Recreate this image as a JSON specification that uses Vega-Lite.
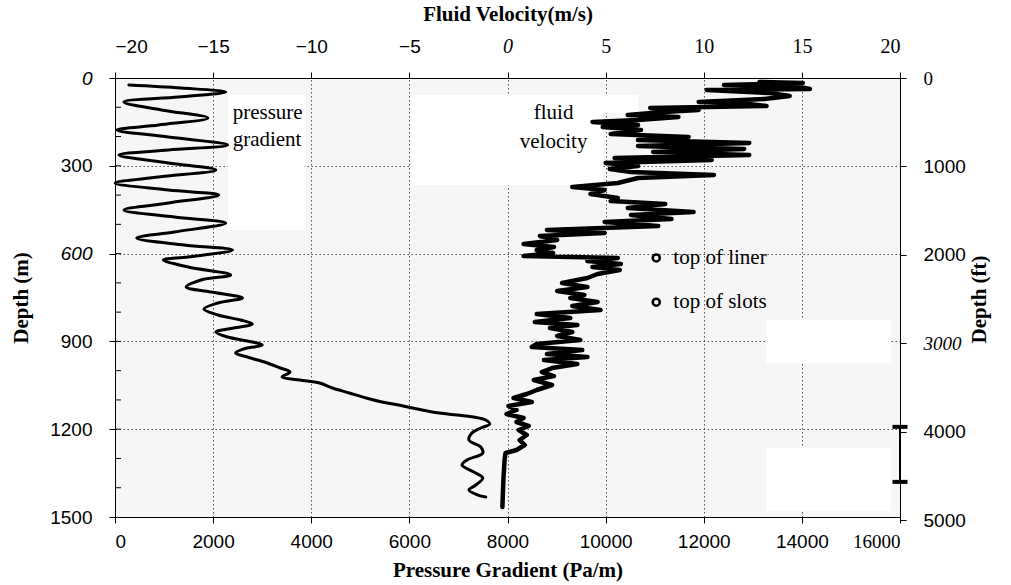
{
  "$schema": "https://vega.github.io/schema/vega-lite/v6.json",
  "width": 785,
  "height": 439,
  "autosize": {"type": "none"},
  "padding": {"left": 115, "top": 78, "right": 111, "bottom": 68},
  "background": "white",
  "config": {
    "view": {"fill": "#f6f6f6", "stroke": "#000", "strokeWidth": 1},
    "axis": {
      "domainColor": "#000", "tickColor": "#000", "labelColor": "#000", "titleColor": "#000",
      "labelFont": "Liberation Sans", "labelFontSize": 19, "format": "d",
      "titleFont": "Liberation Serif", "titleFontSize": 21, "titleFontWeight": "bold",
      "tickSize": 6, "gridDash": [1.5, 2.5], "gridColor": "#555", "gridWidth": 1
    }
  },
  "datasets": {
    "pressure": [
      {"p": 282, "d": 23.9}, {"p": 1350, "d": 34.2}, {"p": 2257, "d": 47.8}, {"p": 1290, "d": 64.9},
      {"p": 181, "d": 82.0}, {"p": 947, "d": 109.3}, {"p": 1894, "d": 136.7}, {"p": 887, "d": 160.6},
      {"p": 40, "d": 177.7}, {"p": 1088, "d": 201.6}, {"p": 2297, "d": 228.9}, {"p": 1088, "d": 246.0},
      {"p": 81, "d": 263.1}, {"p": 1088, "d": 290.4}, {"p": 2055, "d": 314.4}, {"p": 887, "d": 338.3},
      {"p": 0, "d": 358.8}, {"p": 1088, "d": 382.7}, {"p": 2116, "d": 399.8}, {"p": 1088, "d": 427.1},
      {"p": 181, "d": 451.0}, {"p": 1209, "d": 475.0}, {"p": 2257, "d": 495.5}, {"p": 1209, "d": 526.2},
      {"p": 443, "d": 546.7}, {"p": 1411, "d": 570.6}, {"p": 2398, "d": 587.7}, {"p": 1491, "d": 611.6},
      {"p": 987, "d": 621.9}, {"p": 1491, "d": 645.8}, {"p": 2358, "d": 673.1}, {"p": 1753, "d": 690.2},
      {"p": 1451, "d": 714.2}, {"p": 1955, "d": 731.2}, {"p": 2599, "d": 751.7}, {"p": 2096, "d": 768.8},
      {"p": 1814, "d": 789.3}, {"p": 2096, "d": 809.8}, {"p": 2559, "d": 826.9}, {"p": 2801, "d": 840.6},
      {"p": 2418, "d": 854.3}, {"p": 2055, "d": 868.0}, {"p": 2297, "d": 885.0}, {"p": 2700, "d": 898.7},
      {"p": 3002, "d": 912.3}, {"p": 2620, "d": 926.0}, {"p": 2458, "d": 939.7}, {"p": 2700, "d": 953.4},
      {"p": 3103, "d": 973.8}, {"p": 3365, "d": 990.9}, {"p": 3567, "d": 1004.6}, {"p": 3405, "d": 1021.7},
      {"p": 3768, "d": 1032.0}, {"p": 4171, "d": 1042.2}, {"p": 4433, "d": 1059.3}, {"p": 4776, "d": 1076.4},
      {"p": 5118, "d": 1093.4}, {"p": 5441, "d": 1107.1}, {"p": 5783, "d": 1117.4}, {"p": 6065, "d": 1127.6},
      {"p": 6468, "d": 1141.3}, {"p": 6972, "d": 1151.5}, {"p": 7314, "d": 1158.4}, {"p": 7556, "d": 1168.6},
      {"p": 7637, "d": 1182.3}, {"p": 7456, "d": 1195.9}, {"p": 7274, "d": 1213.0}, {"p": 7214, "d": 1237.0},
      {"p": 7456, "d": 1260.9}, {"p": 7496, "d": 1281.4}, {"p": 7173, "d": 1305.3}, {"p": 7073, "d": 1322.4},
      {"p": 7314, "d": 1346.3}, {"p": 7496, "d": 1366.8}, {"p": 7355, "d": 1390.7}, {"p": 7214, "d": 1407.8},
      {"p": 7395, "d": 1424.9}, {"p": 7556, "d": 1431.7}
    ],
    "velocity": [
      {"v": 12.84, "d": 13.7}, {"v": 15.05, "d": 17.1}, {"v": 11.03, "d": 23.9}, {"v": 14.90, "d": 30.8},
      {"v": 15.41, "d": 37.6}, {"v": 10.15, "d": 41.0}, {"v": 13.35, "d": 51.3}, {"v": 14.38, "d": 61.5},
      {"v": 13.09, "d": 71.8}, {"v": 9.74, "d": 82.0}, {"v": 12.32, "d": 88.8}, {"v": 13.20, "d": 95.7},
      {"v": 7.27, "d": 102.5}, {"v": 9.74, "d": 109.3}, {"v": 7.94, "d": 116.2}, {"v": 6.13, "d": 126.4},
      {"v": 8.71, "d": 133.3}, {"v": 6.65, "d": 143.5}, {"v": 4.33, "d": 150.3}, {"v": 6.65, "d": 160.6},
      {"v": 4.85, "d": 167.4}, {"v": 6.80, "d": 177.7}, {"v": 5.26, "d": 191.4}, {"v": 9.23, "d": 201.6},
      {"v": 6.65, "d": 211.9}, {"v": 12.32, "d": 222.1}, {"v": 6.65, "d": 232.4}, {"v": 12.06, "d": 242.6},
      {"v": 7.42, "d": 252.9}, {"v": 12.32, "d": 263.1}, {"v": 5.46, "d": 273.4}, {"v": 10.41, "d": 280.2},
      {"v": 5.00, "d": 290.4}, {"v": 6.65, "d": 300.7}, {"v": 5.21, "d": 310.9}, {"v": 6.29, "d": 321.2},
      {"v": 10.52, "d": 331.4}, {"v": 6.65, "d": 341.7}, {"v": 5.62, "d": 358.8}, {"v": 3.30, "d": 372.5},
      {"v": 4.95, "d": 382.7}, {"v": 4.23, "d": 396.4}, {"v": 5.62, "d": 410.0}, {"v": 5.26, "d": 420.3},
      {"v": 8.04, "d": 430.5}, {"v": 6.13, "d": 444.2}, {"v": 9.48, "d": 457.9}, {"v": 6.29, "d": 468.1},
      {"v": 8.35, "d": 481.8}, {"v": 4.95, "d": 492.0}, {"v": 7.68, "d": 505.7}, {"v": 2.01, "d": 519.4},
      {"v": 4.95, "d": 529.6}, {"v": 1.65, "d": 539.9}, {"v": 2.53, "d": 553.6}, {"v": 0.82, "d": 567.2},
      {"v": 2.37, "d": 577.5}, {"v": 1.49, "d": 587.7}, {"v": 2.32, "d": 598.0}, {"v": 0.82, "d": 608.2},
      {"v": 5.62, "d": 615.1}, {"v": 4.07, "d": 625.3}, {"v": 5.77, "d": 635.6}, {"v": 4.33, "d": 645.8},
      {"v": 5.72, "d": 656.1}, {"v": 4.59, "d": 669.7}, {"v": 4.07, "d": 683.4}, {"v": 2.78, "d": 700.5},
      {"v": 4.07, "d": 714.2}, {"v": 2.53, "d": 727.8}, {"v": 3.92, "d": 741.5}, {"v": 3.20, "d": 751.7},
      {"v": 4.59, "d": 765.4}, {"v": 3.30, "d": 779.1}, {"v": 4.74, "d": 792.7}, {"v": 1.49, "d": 806.4},
      {"v": 3.20, "d": 820.1}, {"v": 1.39, "d": 833.7}, {"v": 3.56, "d": 844.0}, {"v": 2.16, "d": 854.3},
      {"v": 3.30, "d": 868.0}, {"v": 2.53, "d": 881.6}, {"v": 3.71, "d": 895.3}, {"v": 1.49, "d": 909.0},
      {"v": 1.24, "d": 919.2}, {"v": 3.81, "d": 929.4}, {"v": 2.01, "d": 943.1}, {"v": 4.07, "d": 953.4},
      {"v": 1.86, "d": 963.6}, {"v": 3.56, "d": 977.3}, {"v": 2.27, "d": 991.0}, {"v": 1.75, "d": 1004.6},
      {"v": 2.37, "d": 1018.3}, {"v": 1.34, "d": 1032.0}, {"v": 2.27, "d": 1049.0}, {"v": 1.49, "d": 1066.1},
      {"v": 0.98, "d": 1079.8}, {"v": 0.31, "d": 1093.4}, {"v": 1.24, "d": 1107.1}, {"v": 0.05, "d": 1120.8},
      {"v": 0.46, "d": 1134.4}, {"v": -0.05, "d": 1148.1}, {"v": 0.82, "d": 1161.8}, {"v": 0.46, "d": 1175.4},
      {"v": 1.08, "d": 1189.1}, {"v": 0.57, "d": 1202.8}, {"v": 0.98, "d": 1219.9}, {"v": 0.62, "d": 1237.0},
      {"v": 0.88, "d": 1254.0}, {"v": 0.46, "d": 1271.1}, {"v": -0.10, "d": 1281.4}, {"v": -0.15, "d": 1305.3},
      {"v": -0.21, "d": 1373.6}, {"v": -0.26, "d": 1465.9}
    ],
    "pbox": [
      {"p1": 2297, "p2": 3869, "d1": 58, "d2": 519},
      {"p1": 13279, "p2": 15818, "d1": 827, "d2": 975},
      {"p1": 13279, "p2": 15818, "d1": 1264, "d2": 1480}
    ],
    "vbox": [
      {"v1": -4.95, "v2": 6.65, "d1": 58, "d2": 120},
      {"v1": -4.95, "v2": 4.85, "d1": 120, "d2": 366}
    ],
    "slotspan": [{"d1": 1192, "d2": 1380}],
    "slotcaps": [{"d": 1192}, {"d": 1380}],
    "minor": [
      {"d": 100}, {"d": 200}, {"d": 300}, {"d": 400}, {"d": 500}, {"d": 600}, {"d": 700},
      {"d": 800}, {"d": 900}, {"d": 1000}, {"d": 1100}, {"d": 1200}, {"d": 1300}, {"d": 1400}
    ],
    "plabel": [{"t": "pressure", "p": 2398, "d": 119.6}, {"t": "gradient", "p": 2398, "d": 211.9}],
    "vlabel": [{"t": "fluid", "v": 2.35, "d": 119.6}, {"t": "velocity", "v": 2.35, "d": 218.7}],
    "legend": [{"t": "top of liner", "v": 7.58, "tv": 8.45, "d": 615}, {"t": "top of slots", "v": 7.58, "tv": 8.45, "d": 766}],
    "ft": [{"ft": 0}, {"ft": 5000}]
  },
  "layer": [
    {
      "layer": [
        {
          "data": {"name": "pbox"},
          "mark": {"type": "rect", "fill": "white"},
          "encoding": {
            "x": {
              "field": "p1", "type": "quantitative",
              "scale": {"domain": [0, 16000], "nice": false, "zero": false},
              "axis": {
                "orient": "bottom", "values": [0, 2000, 4000, 6000, 8000, 10000, 12000, 14000, 16000],
                "title": "Pressure Gradient (Pa/m)", "grid": true, "labelPadding": 9, "titlePadding": 8,
                "labelFont": {"condition": {"test": "datum.value == 16000", "value": "Liberation Serif"}, "value": "Liberation Sans"}
              }
            },
            "x2": {"field": "p2"},
            "y": {
              "field": "d1", "type": "quantitative",
              "scale": {"domain": [0, 1500], "reverse": true, "nice": false, "zero": false},
              "axis": {
                "orient": "left", "values": [0, 300, 600, 900, 1200, 1500],
                "title": "Depth (m)", "grid": true, "labelPadding": 17, "titlePadding": 18,
                "labelFontStyle": {"condition": {"test": "datum.value == 0 || datum.value == 600", "value": "italic"}, "value": "normal"}
              }
            },
            "y2": {"field": "d2"}
          }
        },
        {
          "data": {"name": "minor"},
          "mark": {"type": "tick", "orient": "horizontal", "color": "black", "opacity": 1, "size": 6, "thickness": 1, "xOffset": 3},
          "encoding": {
            "x": {"datum": 0, "type": "quantitative"},
            "y": {"field": "d", "type": "quantitative"}
          }
        },
        {
          "data": {"name": "pressure"},
          "mark": {"type": "line", "color": "black", "strokeWidth": 3, "strokeJoin": "round", "strokeCap": "round", "interpolate": "catmull-rom"},
          "encoding": {
            "x": {"field": "p", "type": "quantitative"},
            "y": {"field": "d", "type": "quantitative"},
            "order": {"field": "d", "type": "quantitative"}
          }
        },
        {
          "data": {"name": "slotspan"},
          "mark": {"type": "rule", "color": "black", "strokeWidth": 2},
          "encoding": {
            "x": {"datum": 16000, "type": "quantitative"},
            "y": {"field": "d1", "type": "quantitative"},
            "y2": {"field": "d2"}
          }
        },
        {
          "data": {"name": "slotcaps"},
          "mark": {"type": "tick", "orient": "horizontal", "color": "black", "opacity": 1, "size": 15, "thickness": 4},
          "encoding": {
            "x": {"datum": 16000, "type": "quantitative"},
            "y": {"field": "d", "type": "quantitative"}
          }
        },
        {
          "data": {"name": "plabel"},
          "mark": {"type": "text", "align": "left", "baseline": "middle", "font": "Liberation Serif", "fontSize": 21, "color": "black"},
          "encoding": {
            "x": {"field": "p", "type": "quantitative"},
            "y": {"field": "d", "type": "quantitative"},
            "text": {"field": "t"}
          }
        }
      ]
    },
    {
      "layer": [
        {
          "data": {"name": "vbox"},
          "mark": {"type": "rect", "fill": "white"},
          "encoding": {
            "x": {
              "field": "v1", "type": "quantitative",
              "scale": {"domain": [-20, 20], "nice": false, "zero": false},
              "axis": {
                "orient": "top", "values": [-20, -15, -10, -5, 0, 5, 10, 15, 20],
                "title": "Fluid Velocity(m/s)", "grid": false, "labelPadding": 16, "titlePadding": 12,
                "labelFont": {"condition": {"test": "datum.value >= 0", "value": "Liberation Serif"}, "value": "Liberation Sans"},
                "labelFontSize": {"condition": {"test": "datum.value >= 0", "value": 20}, "value": 19},
                "labelFontStyle": {"condition": {"test": "datum.value == 0", "value": "italic"}, "value": "normal"}
              }
            },
            "x2": {"field": "v2"},
            "y": {
              "field": "d1", "type": "quantitative",
              "scale": {"domain": [0, 1500], "reverse": true, "nice": false, "zero": false},
              "axis": null
            },
            "y2": {"field": "d2"}
          }
        },
        {
          "data": {"name": "velocity"},
          "mark": {"type": "line", "color": "black", "strokeWidth": 4.5, "strokeJoin": "round", "strokeCap": "round"},
          "encoding": {
            "x": {"field": "v", "type": "quantitative"},
            "y": {"field": "d", "type": "quantitative"},
            "order": {"field": "d", "type": "quantitative"}
          }
        },
        {
          "data": {"name": "legend"},
          "mark": {"type": "point", "shape": "circle", "filled": false, "stroke": "black", "opacity": 1, "strokeWidth": 2.5, "size": 50},
          "encoding": {
            "x": {"field": "v", "type": "quantitative"},
            "y": {"field": "d", "type": "quantitative"}
          }
        },
        {
          "data": {"name": "legend"},
          "mark": {"type": "text", "align": "left", "baseline": "middle", "font": "Liberation Serif", "fontSize": 21, "color": "black"},
          "encoding": {
            "x": {"field": "tv", "type": "quantitative"},
            "y": {"field": "d", "type": "quantitative"},
            "text": {"field": "t"}
          }
        },
        {
          "data": {"name": "vlabel"},
          "mark": {"type": "text", "align": "center", "baseline": "middle", "font": "Liberation Serif", "fontSize": 21, "color": "black"},
          "encoding": {
            "x": {"field": "v", "type": "quantitative"},
            "y": {"field": "d", "type": "quantitative"},
            "text": {"field": "t"}
          }
        }
      ]
    },
    {
      "data": {"name": "ft"},
      "mark": {"type": "point", "opacity": 0},
      "encoding": {
        "y": {
          "field": "ft", "type": "quantitative",
          "scale": {"domain": [0, 5000], "range": [0, 442], "nice": false, "zero": false},
          "axis": {
            "orient": "right", "values": [0, 1000, 2000, 3000, 4000, 5000],
            "title": "Depth (ft)", "titleAngle": 270, "grid": false, "labelPadding": 17, "titlePadding": 24,
            "labelFont": {"condition": {"test": "datum.value == 0 || datum.value == 3000", "value": "Liberation Serif"}, "value": "Liberation Sans"},
            "labelFontStyle": {"condition": {"test": "datum.value == 3000", "value": "italic"}, "value": "normal"}
          }
        }
      }
    }
  ],
  "resolve": {"scale": {"x": "independent", "y": "independent"}}
}
